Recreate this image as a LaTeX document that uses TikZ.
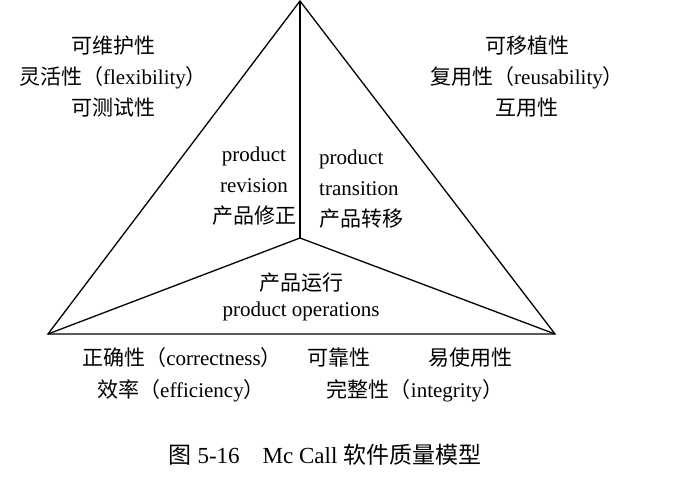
\documentclass[tikz,border=0pt]{standalone}
\usepackage{fontspec}
\setmainfont{Liberation Serif}
\newfontfamily\cjk{Noto Sans CJK SC}
\usepackage{tikz}
\usetikzlibrary{calc}

\newcommand{\zh}[1]{{\cjk #1}}

\begin{document}
\begin{tikzpicture}[x=1pt,y=-1pt,
    lbl/.style={inner sep=0pt, font=\fontsize{21}{31}\selectfont}]
        \useasboundingbox (0,0) rectangle (690,497);

        \coordinate (apex) at (300,1);
        \coordinate (left) at (48,334);
        \coordinate (right) at (555,334);
        \coordinate (mid) at (300,238);

        \draw [line width=1.3pt, line join=miter] (apex) -- (left) -- (right) -- cycle;
        \draw [line width=1.3pt] (mid) -- (apex);
        \draw [line width=1.3pt] (mid) -- (left);
        \draw [line width=1.3pt] (mid) -- (right);

        % factors around the triangle
        \node [lbl, align=center] (revfac) at (113,77) {\zh{可维护性}\\\zh{灵活性（}flexibility\zh{）}\\\zh{可测试性}};
        \node [lbl, align=center] (trafac) at (527,77) {\zh{可移植性}\\\zh{复用性（}reusability\zh{）}\\\zh{互用性}};

        % the three sectors
        \node [lbl, align=center] (revision) at (254,186) {product\\revision\\\zh{产品修正}};
        \node [lbl, align=left, anchor=west] (transition) at (319,189) {product\\transition\\\zh{产品转移}};
        \node [lbl] (opzh) at (301,283) {\zh{产品运行}};
        \node [lbl] (open) at (301,311) {product operations};

        % operation factors
        \node [lbl] (correct) at (182,358) {\zh{正确性（}correctness\zh{）}};
        \node [lbl] (reliab) at (339,358) {\zh{可靠性}};
        \node [lbl] (usab) at (470,358) {\zh{易使用性}};
        \node [lbl] (effic) at (181,391) {\zh{效率（}efficiency\zh{）}};
        \node [lbl] (integ) at (415,391) {\zh{完整性（}integrity\zh{）}};

        \node [inner sep=0pt, font=\fontsize{23}{27}\selectfont] (caption) at (325,455) {\zh{图} 5-16\quad Mc Call \zh{软件质量模型}};
\end{tikzpicture}
\end{document}
